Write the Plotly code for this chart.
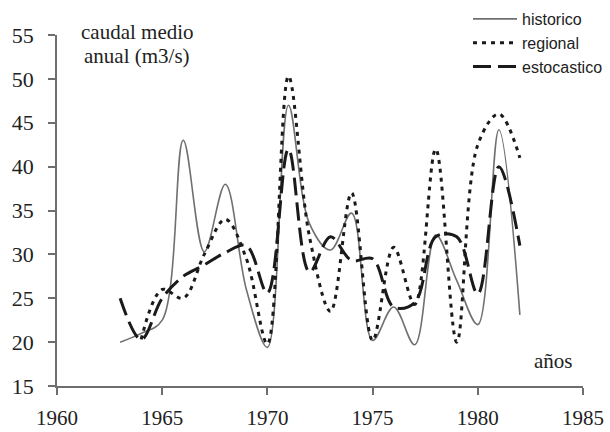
import plotly.graph_objects as go

# Annual mean discharge series (m3/s)
years_hist = list(range(1963, 1983))
historico = [20.0, 21.0, 22.5, 43.0, 30.3, 38.0, 26.0, 19.4, 47.0, 33.5,
             30.5, 34.7, 20.2, 24.0, 19.7, 32.2, 27.0, 22.0, 44.2, 23.1]

years_reg = list(range(1964, 1983))
regional = [20.3, 26.0, 25.0, 30.0, 34.0, 29.5, 19.8, 50.3, 32.0, 23.5,
            37.0, 20.2, 30.8, 24.3, 42.0, 20.0, 42.5, 46.0, 41.0]

years_est = list(range(1963, 1983))
estocastico = [25.0, 20.3, 25.0, 27.5, 28.8, 30.2, 31.0, 25.6, 42.0, 28.0,
               32.0, 29.3, 29.5, 24.0, 24.5, 32.0, 32.0, 25.5, 40.0, 31.0]

x_ticks = [1960, 1965, 1970, 1975, 1980, 1985]
y_ticks = [15, 20, 25, 30, 35, 40, 45, 50, 55]

serif = "Liberation Serif, Times New Roman, serif"
sans = "Liberation Sans, Arial, sans-serif"
axis_col = "#6e6e6e"

# plot area in pixels: left 57, top 35, width 526, height 351
L, T, W, H = 57, 35, 526, 351

fig = go.Figure()
fig.add_trace(go.Scatter(
    x=years_hist, y=historico, name="historico", mode="lines",
    line=dict(color="#707070", width=1.6, shape="spline"),
    legendgroup="a"))
fig.add_trace(go.Scatter(
    x=years_reg, y=regional, name="regional", mode="lines",
    line=dict(color="#1a1a1a", width=3, dash="4px,5px", shape="spline"),
    legendgroup="b"))
fig.add_trace(go.Scatter(
    x=years_est, y=estocastico, name="estocastico", mode="lines",
    line=dict(color="#1a1a1a", width=3, dash="18px,7px", shape="spline"),
    legendgroup="c"))

fig.update_xaxes(
    range=[1960, 1985], tickvals=x_ticks, ticks="outside", ticklen=7,
    tickcolor=axis_col, tickwidth=1.5, showline=True, linecolor=axis_col,
    linewidth=1.5, showgrid=False, zeroline=False,
    tickfont=dict(family=serif, size=21, color="#222"),
    ticklabelstandoff=5)
fig.update_yaxes(
    range=[15, 55], tickvals=y_ticks, ticks="outside", ticklen=7,
    tickcolor=axis_col, tickwidth=1.5, showline=True, linecolor=axis_col,
    linewidth=1.5, showgrid=False, zeroline=False,
    tickfont=dict(family=serif, size=22, color="#222"),
    ticklabelstandoff=10)


def px_to_paper(px, py):
    return (px - L) / W, 1 - (py - T) / H


for text, px, py in [("caudal medio", 137, 32), ("anual (m3/s)", 137, 56),
                     ("años", 553, 361)]:
    ax, ay = px_to_paper(px, py)
    fig.add_annotation(text=text, xref="paper", yref="paper", x=ax, y=ay,
                       xanchor="center", yanchor="middle", showarrow=False,
                       font=dict(family=serif, size=21, color="#222"))

lx, ly = px_to_paper(468, 2)
fig.update_layout(
    width=610, height=432,
    margin=dict(l=L, r=610 - L - W, t=T, b=432 - T - H, autoexpand=False),
    plot_bgcolor="white", paper_bgcolor="white",
    showlegend=True,
    legend=dict(x=lx, y=ly, xanchor="left", yanchor="top",
                bgcolor="rgba(0,0,0,0)",
                font=dict(family=sans, size=16, color="#222"),
                traceorder="grouped", tracegroupgap=0, itemwidth=44),
)

fig.write_html("out.html")
